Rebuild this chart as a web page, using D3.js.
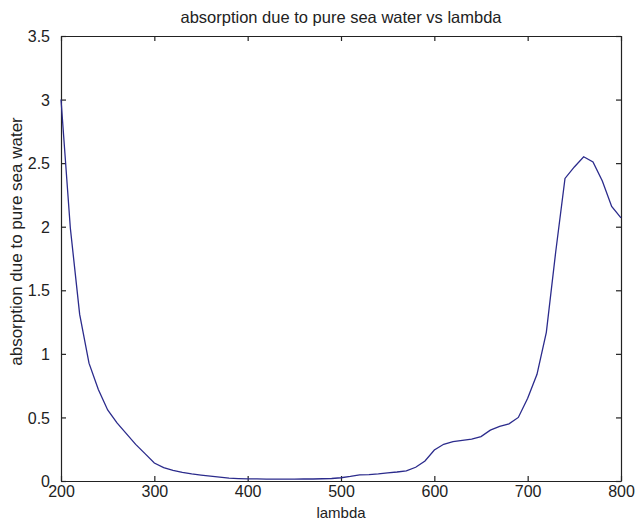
<!DOCTYPE html>
<html>
<head>
<meta charset="utf-8">
<script src="https://cdn.jsdelivr.net/npm/d3@7/dist/d3.min.js"></script>
<style>
  html, body { margin: 0; padding: 0; background: #fff; }
  text { font-family: "Liberation Sans", Arial, sans-serif; fill: #222; }
</style>
</head>
<body>
<svg id="chart" width="635" height="524"></svg>
<script>
const lambda = [200,210,220,230,240,250,260,270,280,290,300,310,320,330,340,350,360,370,380,390,400,410,420,430,440,450,460,470,480,490,500,510,520,530,540,550,560,570,580,590,600,610,620,630,640,650,660,670,680,690,700,710,720,730,740,750,760,770,780,790,800];
const absorption = [3.0,1.99,1.31,0.927,0.72,0.559,0.457,0.373,0.288,0.215,0.141,0.105,0.0844,0.0678,0.0557,0.0463,0.0379,0.03,0.022,0.0191,0.0171,0.0162,0.0153,0.0144,0.0145,0.0145,0.0156,0.0156,0.0176,0.0196,0.0257,0.0357,0.0477,0.0507,0.0558,0.0638,0.0708,0.0799,0.108,0.157,0.244,0.289,0.309,0.319,0.329,0.349,0.4,0.43,0.45,0.5,0.65,0.839,1.169,1.799,2.38,2.47,2.55,2.51,2.36,2.16,2.07];
const xTicks = [200,300,400,500,600,700,800];
const yTicks = [0,0.5,1,1.5,2,2.5,3,3.5];
const title = "absorption due to pure sea water vs lambda";
const xLabel = "lambda";
const yLabel = "absorption due to pure sea water";

const svg = d3.select("#chart");
const L = 61, R = 621, T = 36, B = 481;
const x = d3.scaleLinear().domain([200, 800]).range([L, R]);
const y = d3.scaleLinear().domain([0, 3.5]).range([B, T]);
const axisColor = "#222";
const tickLen = 5;

const gB = svg.append("g").attr("transform", `translate(0,${B})`)
  .call(d3.axisBottom(x).tickValues(xTicks).tickSizeInner(-tickLen).tickSizeOuter(0).tickPadding(5).tickFormat(d3.format("d")));
const gT = svg.append("g").attr("transform", `translate(0,${T})`)
  .call(d3.axisTop(x).tickValues(xTicks).tickSizeInner(-tickLen).tickSizeOuter(0).tickFormat(""));
const gL = svg.append("g").attr("transform", `translate(${L},0)`)
  .call(d3.axisLeft(y).tickValues(yTicks).tickSizeInner(-tickLen).tickSizeOuter(0).tickPadding(11).tickFormat(d => d3.format("")(d)));
const gR = svg.append("g").attr("transform", `translate(${R},0)`)
  .call(d3.axisRight(y).tickValues(yTicks).tickSizeInner(-tickLen).tickSizeOuter(0).tickFormat(""));

[gB, gT, gL, gR].forEach(g => {
  g.selectAll("path.domain").attr("stroke", axisColor).attr("stroke-width", 1.2);
  g.selectAll(".tick line").attr("stroke", axisColor).attr("stroke-width", 1.2);
  g.selectAll(".tick text").style("font-family", '"Liberation Sans", Arial, sans-serif').style("font-size", "16px").attr("fill", "#222");
});
gL.selectAll(".tick text").attr("dy", "0.35em");

const line = d3.line().x((d, i) => x(lambda[i])).y(d => y(d));
svg.append("path").datum(absorption)
  .attr("d", line).attr("fill", "none").attr("stroke", "#2b2b8c").attr("stroke-width", 1.3);

svg.append("text").attr("x", (L + R) / 2).attr("y", 23).attr("text-anchor", "middle")
  .style("font-size", "16.5px").text(title);
svg.append("text").attr("x", (L + R) / 2).attr("y", 518).attr("text-anchor", "middle")
  .style("font-size", "15px").text(xLabel);
svg.append("text").attr("transform", `translate(22,${(T + B) / 2 - 17}) rotate(-90)`).attr("text-anchor", "middle")
  .style("font-size", "17px").text(yLabel);
</script>
</body>
</html>
